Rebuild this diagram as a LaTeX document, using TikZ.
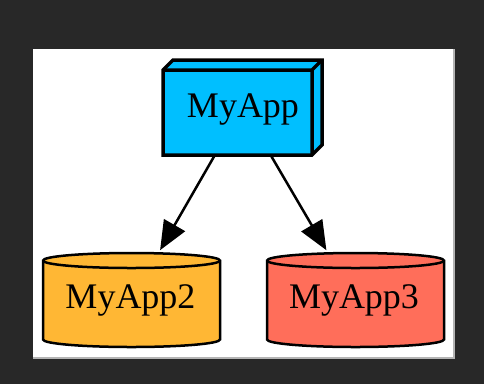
\documentclass[tikz,border=0pt]{standalone}
\usepackage{fontspec}
\setmainfont{Liberation Serif}
\usetikzlibrary{arrows.meta}
\definecolor{bgdark}{HTML}{282828}
\definecolor{appblue}{HTML}{00BFFF}
\definecolor{apporange}{HTML}{FFB734}
\definecolor{appred}{HTML}{FF6E5A}
\definecolor{edgegray}{HTML}{B4B4B4}
\tikzset{
  lbl/.style={inner sep=0pt, anchor=base, font=\fontsize{36}{40}\selectfont},
  boxarea/.style={inner sep=0pt, minimum width=159pt, minimum height=96pt},
  cylarea/.style={inner sep=0pt, minimum width=177pt, minimum height=94pt},
  boxline/.style={draw=black, line width=3.5pt, line join=miter},
  cylline/.style={draw=black, line width=2.5pt},
  edge/.style={draw=black, line width=2.5pt, -{Triangle[length=29pt,width=24pt]}, shorten >=3pt, shorten <=1pt}
}
\begin{document}
\begin{tikzpicture}[x=1pt,y=-1pt]
\useasboundingbox[fill=bgdark] (0,0) rectangle (484,384);
\fill[white] (33,49) rectangle (453,357);
\draw[edgegray, line width=1.5pt] (453.75,49) -- (453.75,357.75) -- (33,357.75);
% MyApp box3d
\node[boxarea] (app) at (242.5,107) {};
\filldraw[boxline, fill=appblue] (163,70) -- (173,60) -- (322,60) -- (322,145) -- (312,155) -- (163,155) -- cycle;
\draw[boxline] (163,70) -- (312,70) -- (312,155) (312,70) -- (322,60);
\node[lbl] (applbl) at (243,117) {MyApp};
% MyApp2 cylinder
\node[cylarea] (app2) at (131.5,300) {};
\filldraw[cylline, fill=apporange] (43,260.5) -- (43,339.5) arc[start angle=180, end angle=360, x radius=88.5pt, y radius=7.5pt] -- (220,260.5) arc[start angle=0, end angle=180, x radius=88.5pt, y radius=7.5pt] -- cycle;
\draw[cylline] (43,260.5) arc[start angle=180, end angle=360, x radius=88.5pt, y radius=7.5pt];
\node[lbl] (app2lbl) at (130.5,308) {MyApp2};
% MyApp3 cylinder
\node[cylarea] (app3) at (355.5,300) {};
\filldraw[cylline, fill=appred] (267,260.5) -- (267,339.5) arc[start angle=180, end angle=360, x radius=88.5pt, y radius=7.5pt] -- (444,260.5) arc[start angle=0, end angle=180, x radius=88.5pt, y radius=7.5pt] -- cycle;
\draw[cylline] (267,260.5) arc[start angle=180, end angle=360, x radius=88.5pt, y radius=7.5pt];
\node[lbl] (app3lbl) at (354,308) {MyApp3};
% edges
\draw[edge] (app) -- (app2);
\draw[edge] (app) -- (app3);
\end{tikzpicture}
\end{document}
